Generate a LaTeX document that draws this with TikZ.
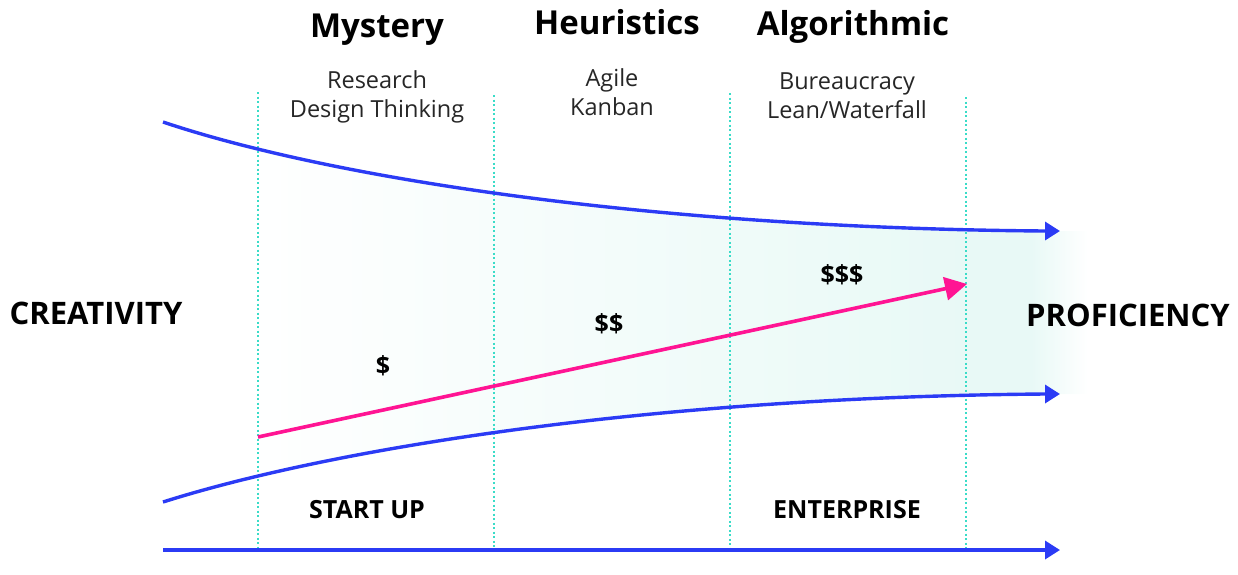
\documentclass[tikz,border=0pt]{standalone}
\usepackage{fontspec}
\setmainfont{Open Sans}
\usetikzlibrary{arrows.meta}
\definecolor{cblue}{HTML}{2B3BF5}
\definecolor{cpink}{HTML}{FF1493}
\definecolor{cturq}{HTML}{3ADCC8}
\definecolor{ctint}{HTML}{E8F9F6}
\tikzset{
  flow/.style={draw=cblue, line width=3.4pt, -{Triangle[length=15pt,width=18pt]}},
  money/.style={draw=cpink, line width=3.6pt, -{Triangle[length=22pt,width=23pt]}},
  divider/.style={draw=cturq, line width=2pt, dash pattern=on 2pt off 2.5pt},
  phase/.style={font=\fontsize{33}{38}\selectfont\bfseries, anchor=base},
  method/.style={font=\fontsize{23.5}{29}\selectfont, text=black!85, align=center, anchor=base},
  side/.style={font=\fontsize{31}{36}\selectfont\bfseries},
  stage/.style={font=\fontsize{25}{30}\selectfont\bfseries},
  cash/.style={font=\fontsize{25}{30}\selectfont\bfseries}
}
\begin{document}
\begin{tikzpicture}[x=1pt,y=-1pt]
\useasboundingbox (0,0) rectangle (1238,574);
% shading between curves
\begin{scope}
  \clip (163,122) .. controls (330,178) and (650,228) .. (1045,231)
        -- (1090,231) -- (1090,394) -- (1045,394)
        .. controls (650,397) and (330,449) .. (163,502) -- cycle;
  \shade[left color=white, right color=ctint] (240,100) rectangle (970,520);
  \fill[ctint] (969,100) rectangle (1032,520);
  \shade[left color=ctint, right color=white] (1031,100) rectangle (1088,520);
\end{scope}
% dividers
\coordinate (d1t) at (258,92);  \coordinate (d1b) at (258,550);
\coordinate (d2t) at (494,95);  \coordinate (d2b) at (494,550);
\coordinate (d3t) at (730,93);  \coordinate (d3b) at (730,550);
\coordinate (d4t) at (966,97);  \coordinate (d4b) at (966,550);
\draw[divider] (d1t) -- (d1b);
\draw[divider] (d2t) -- (d2b);
\draw[divider] (d3t) -- (d3b);
\draw[divider] (d4t) -- (d4b);
% flows
\coordinate (us) at (163,122); \coordinate (ue) at (1060,231);
\coordinate (ls) at (163,502); \coordinate (le) at (1060,394);
\coordinate (bs) at (163,550); \coordinate (be) at (1060,550);
\draw[flow] (us) .. controls (330,178) and (650,228) .. (1045,231) -- (ue);
\draw[flow] (ls) .. controls (330,449) and (650,397) .. (1045,394) -- (le);
\draw[flow] (bs) -- (be);
% money arrow
\coordinate (ms) at (258,437); \coordinate (me) at (967,284);
\draw[money] (ms) -- (me);
% titles
\node[phase] (t1) at (377,37) {Mystery};
\node[phase] (t2) at (617,34) {Heuristics};
\node[phase] (t3) at (853,35) {Algorithmic};
\node[method] (m1) at (377,117) {Research\\Design Thinking};
\node[method] (m2) at (612,115) {Agile\\Kanban};
\node[method] (m3) at (847,118) {Bureaucracy\\Lean/Waterfall};
% side labels
\node[side] (cr) at (96,313) {CREATIVITY};
\node[side] (pr) at (1128,315) {PROFICIENCY};
% stages
\node[stage] (su) at (367,510) {START UP};
\node[stage] (en) at (847,510) {ENTERPRISE};
% money labels
\node[cash] (c1) at (383,366) {\$};
\node[cash] (c2) at (609,324) {\$\$};
\node[cash] (c3) at (842,275) {\$\$\$};
\end{tikzpicture}
\end{document}
